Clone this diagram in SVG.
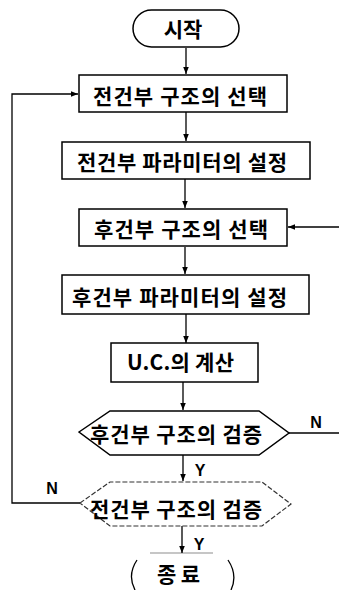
<svg xmlns="http://www.w3.org/2000/svg" width="339" height="590" viewBox="0 0 339 590">
<defs>
<marker id="ah" viewBox="0 0 10 10" refX="10" refY="5" markerWidth="7" markerHeight="7" orient="auto" markerUnits="userSpaceOnUse">
<path d="M0,1 L10,5 L0,9 Z" fill="#000"/>
</marker>
</defs>
<style>
.box{fill:#fff;stroke:#000;stroke-width:1.5}
.faint{fill:#fff;stroke:#333;stroke-width:1.2;stroke-dasharray:5 2}
.ln{fill:none;stroke:#000;stroke-width:1.3}
.t{font-family:"Noto Sans CJK KR","Noto Sans",sans-serif;font-weight:bold;font-size:21px;fill:#000}
.lb{font-family:"Liberation Sans",Arial,sans-serif;font-weight:bold;font-size:16px;fill:#000;text-anchor:middle}
</style>
<rect width="339" height="590" fill="#fff"/>
<g id="connectors">
<line class="ln" x1="186" y1="48" x2="186" y2="74" marker-end="url(#ah)"/>
<line class="ln" x1="186" y1="112" x2="186" y2="141" marker-end="url(#ah)"/>
<line class="ln" x1="185" y1="179" x2="185" y2="208" marker-end="url(#ah)"/>
<line class="ln" x1="185" y1="247" x2="185" y2="274" marker-end="url(#ah)"/>
<line class="ln" x1="186" y1="314" x2="186" y2="343" marker-end="url(#ah)"/>
<line class="ln" x1="183" y1="382" x2="183" y2="410" marker-end="url(#ah)"/>
<line class="ln" x1="183" y1="455" x2="183" y2="481" marker-end="url(#ah)"/>
<line class="ln" x1="182" y1="526" x2="182" y2="553" marker-end="url(#ah)"/>
<polyline class="ln" points="80,503 12,503 12,94 78,94" marker-end="url(#ah)"/>
<line class="ln" x1="289" y1="433" x2="339" y2="433"/>
<line class="ln" x1="339" y1="227" x2="288" y2="227" marker-end="url(#ah)"/>
<text class="lb" x="52" y="494">N</text>
<text class="lb" x="316" y="428">N</text>
<text class="lb" x="200" y="476">Y</text>
<text class="lb" x="199" y="550">Y</text>
</g>
<g id="start">
<rect class="box" x="133" y="10" width="106" height="37" rx="18.5"/>
<text class="t" x="183" y="37" font-size="20" text-anchor="middle">시작</text>
</g>
<g id="n1">
<rect class="box" x="79" y="75" width="208" height="37"/>
<text class="t" x="93" y="104" textLength="174" lengthAdjust="spacing">전건부 구조의 선택</text>
</g>
<g id="n2">
<rect class="box" x="62" y="142" width="248" height="37"/>
<text class="t" x="77" y="170" textLength="210" lengthAdjust="spacing">전건부 파라미터의 설정</text>
</g>
<g id="n3">
<rect class="box" x="79" y="209" width="208" height="37"/>
<text class="t" x="94" y="237" textLength="174" lengthAdjust="spacing">후건부 구조의 선택</text>
</g>
<g id="n4">
<rect class="box" x="62" y="275" width="247" height="39"/>
<text class="t" x="72" y="305" textLength="215" lengthAdjust="spacing">후건부 파라미터의 설정</text>
</g>
<g id="n5">
<rect class="box" x="111" y="343" width="147" height="39"/>
<text class="t" x="127" y="370" textLength="107" lengthAdjust="spacing">U.C.의 계산</text>
</g>
<g id="d1">
<polygon class="box" points="79,432 110,411 259,411 289,433 259,455 110,455"/>
<text class="t" x="90" y="442" textLength="172" lengthAdjust="spacing">후건부 구조의 검증</text>
</g>
<g id="d2">
<polygon class="faint" points="80,503 110,482 262,482 291,504 262,526 110,526"/>
<text class="t" x="90" y="517" textLength="172" lengthAdjust="spacing">전건부 구조의 검증</text>
</g>
<g id="end">
<line x1="150" y1="553" x2="213" y2="553" stroke="#000" stroke-width="1" stroke-opacity="0.45"/>
<path class="ln" d="M137,560 Q127,575 135,590"/>
<path class="ln" d="M228,560 Q238,575 231,590"/>
<text class="t" x="157" y="582" font-size="20" textLength="43" lengthAdjust="spacing">종료</text>
</g>
</svg>
